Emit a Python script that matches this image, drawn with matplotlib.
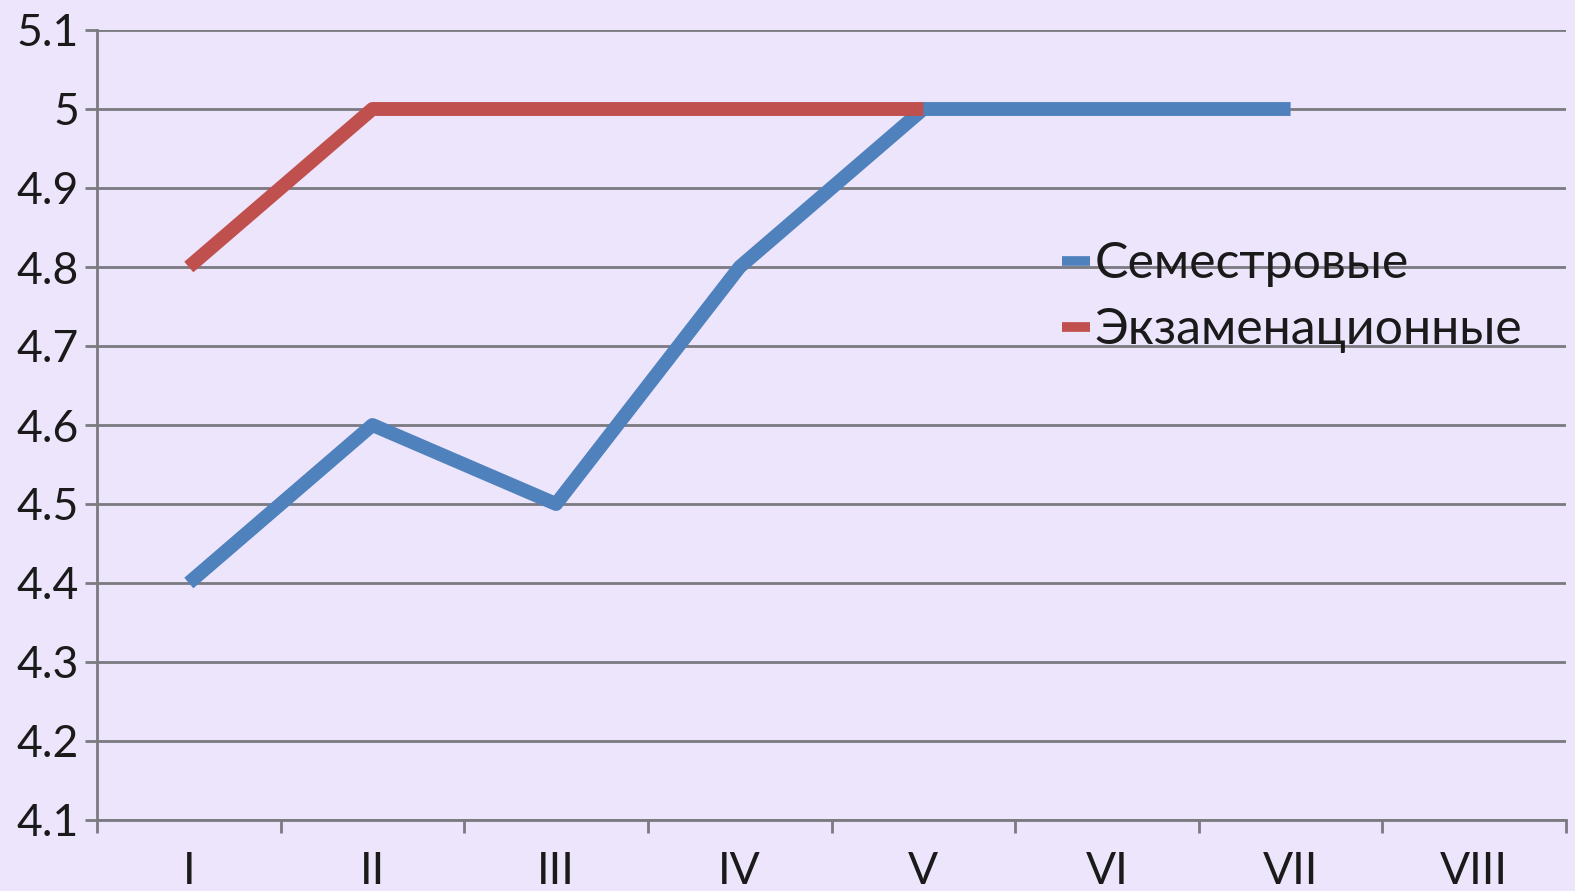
import matplotlib
matplotlib.use("Agg")
import matplotlib.pyplot as plt
import numpy as np

categories = ["I", "II", "III", "IV", "V", "VI", "VII", "VIII"]
semester = [4.4, 4.6, 4.5, 4.8, 5.0, 5.0, 5.0, np.nan]
exam = [4.8, 5.0, 5.0, 5.0, 5.0, np.nan, np.nan, np.nan]
yticks = [4.1, 4.2, 4.3, 4.4, 4.5, 4.6, 4.7, 4.8, 4.9, 5.0, 5.1]
ytick_labels = ["4.1", "4.2", "4.3", "4.4", "4.5", "4.6", "4.7", "4.8", "4.9", "5", "5.1"]

bg = "#EDE5FB"
plt.rcParams['font.family'] = ['Lato', 'DejaVu Sans']

fig = plt.figure(figsize=(15.75, 8.91), dpi=100, facecolor=bg)
ax = fig.add_axes([97/1575, 1 - 820/891, (1566 - 97)/1575, (820 - 30)/891])
ax.set_facecolor(bg)

x = np.arange(len(categories))
ax.plot(x, semester, color="#4F81BD", lw=10, solid_capstyle="butt", solid_joinstyle="round",
        label="Семестровые", zorder=3)
ax.plot(x, exam, color="#C0504D", lw=10, solid_capstyle="butt", solid_joinstyle="round",
        label="Экзаменационные", zorder=4)

ax.set_xlim(-0.5, len(categories) - 0.5)
ax.set_ylim(4.1, 5.1)
ax.set_yticks(yticks)
ax.set_yticklabels(ytick_labels)
ax.set_xticks(x)
ax.set_xticklabels(categories)
ax.set_xticks(np.arange(-0.5, len(categories)), minor=True)

gc = "#7a7a80"
ax.grid(axis="y", color=gc, lw=2, zorder=1)
for s in ["top", "right"]:
    ax.spines[s].set_visible(False)
for s in ["left", "bottom"]:
    ax.spines[s].set_color(gc)
    ax.spines[s].set_linewidth(2)

ax.tick_params(axis="y", length=9, width=2, color=gc, labelsize=32, pad=4, labelcolor="#1a1a1a")
ax.tick_params(axis="x", which="major", length=0, labelsize=32, pad=22, labelcolor="#1a1a1a")
ax.tick_params(axis="x", which="minor", length=9, width=2, color=gc)

leg = ax.legend(loc="upper left", bbox_to_anchor=((1062 - 97)/1469, 1 - (241 - 30)/790),
                bbox_transform=ax.transAxes, frameon=False, fontsize=36,
                handlelength=0.55, handletextpad=0.1, labelspacing=0.4, borderaxespad=0,
                borderpad=0)
for t in leg.get_texts():
    t.set_color("#1a1a1a")
for h in leg.get_lines():
    h.set_linewidth(7)

fig.savefig("out.png", dpi=100, facecolor=bg)
